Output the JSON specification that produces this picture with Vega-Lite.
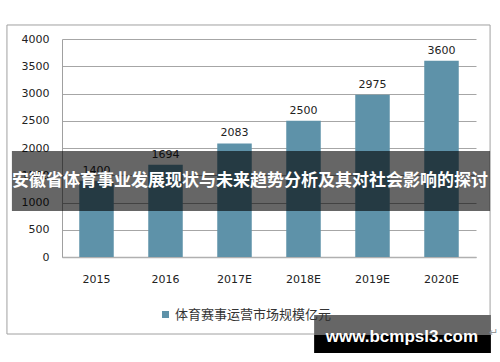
{
  "$schema": "https://vega.github.io/schema/vega-lite/v6.json",
  "width": 414,
  "height": 218,
  "autosize": "none",
  "padding": {"left": 62, "top": 39, "right": 24, "bottom": 105},
  "background": "#ffffff",
  "config": {
    "view": {"stroke": null},
    "font": "DejaVu Sans"
  },
  "resolve": {"scale": {"x": "independent"}, "axis": {"x": "independent"}},
  "encoding": {
    "y": {
      "field": "value", "type": "quantitative",
      "scale": {"domain": [0, 4000], "nice": false},
      "axis": {
        "title": null, "values": [0, 500, 1000, 1500, 2000, 2500, 3000, 3500, 4000],
        "format": "d", "ticks": false, "tickSize": 0, "labelPadding": 13, "labelFontSize": 11,
        "labelColor": "#222222", "labelFont": "DejaVu Sans", "labelOverlap": false,
        "domain": true, "domainColor": "#a0a0a0",
        "grid": true, "gridColor": "#a6a6a6", "gridWidth": 1
      }
    }
  },
  "layer": [
    {
      "data": {"values": [
        {"year": "2015", "value": 1400, "series": "体育赛事运营市场规模亿元"},
        {"year": "2016", "value": 1694, "series": "体育赛事运营市场规模亿元"},
        {"year": "2017E", "value": 2083, "series": "体育赛事运营市场规模亿元"},
        {"year": "2018E", "value": 2500, "series": "体育赛事运营市场规模亿元"},
        {"year": "2019E", "value": 2975, "series": "体育赛事运营市场规模亿元"},
        {"year": "2020E", "value": 3600, "series": "体育赛事运营市场规模亿元"}
      ]},
      "layer": [
        {
          "mark": {"type": "bar"},
          "encoding": {
            "x": {
              "field": "year", "type": "nominal", "sort": null,
              "scale": {"paddingInner": 0.5, "paddingOuter": 0.25},
              "axis": {
                "title": null, "labelAngle": 0, "ticks": false, "tickSize": 0,
                "labelPadding": 16, "labelFontSize": 11, "labelColor": "#222222",
                "labelFont": "DejaVu Sans",
                "domainColor": "#b0b0b0", "domainWidth": 1.5, "grid": false
              }
            },
            "color": {
              "field": "series", "type": "nominal",
              "scale": {"range": ["#5e92a9"]},
              "legend": {
                "title": null, "orient": "none", "legendX": 97, "legendY": 269,
                "symbolType": "square", "symbolSize": 49, "labelFontSize": 13,
                "labelFont": "Noto Sans CJK SC", "labelColor": "#333333", "labelOffset": 3
              }
            }
          }
        },
        {
          "mark": {"type": "text", "baseline": "bottom", "dy": -5, "fontSize": 11, "color": "#222222", "font": "DejaVu Sans"},
          "encoding": {
            "x": {"field": "year", "type": "nominal", "sort": null},
            "text": {"field": "value", "type": "quantitative", "format": "d"}
          }
        }
      ]
    },
    {
      "data": {"values": [{"x": -0.133, "x2": 1.034, "value": 4257, "value2": -1413}]},
      "mark": {"type": "rect", "fill": null, "stroke": "#a0a0a0", "strokeWidth": 1, "clip": false},
      "encoding": {
        "x": {"field": "x", "type": "quantitative", "scale": {"domain": [0, 1], "nice": false, "zero": false}, "axis": null},
        "x2": {"field": "x2"},
        "y2": {"field": "value2"}
      }
    },
    {
      "data": {"values": [{"x": -0.121, "x2": 1.034, "value": 1945, "value2": 844}]},
      "mark": {"type": "rect", "fill": "#000000", "fillOpacity": 0.6, "clip": false},
      "encoding": {
        "x": {"field": "x", "type": "quantitative", "scale": {"domain": [0, 1], "nice": false, "zero": false}, "axis": null},
        "x2": {"field": "x2"},
        "y2": {"field": "value2"}
      }
    },
    {
      "data": {"values": [{"x": 0.454, "value": 1394, "label": "安徽省体育事业发展现状与未来趋势分析及其对社会影响的探讨"}]},
      "mark": {"type": "text", "color": "#ffffff", "fontSize": 17, "fontWeight": "bold", "font": "Noto Sans CJK SC", "align": "center", "baseline": "middle", "clip": false},
      "encoding": {
        "x": {"field": "x", "type": "quantitative", "scale": {"domain": [0, 1], "nice": false, "zero": false}, "axis": null},
        "text": {"field": "label"}
      }
    },
    {
      "data": {"values": [{"x": 0.609, "x2": 1.036, "value": -1064, "value2": -1431}]},
      "mark": {"type": "rect", "fill": "#666666", "clip": false},
      "encoding": {
        "x": {"field": "x", "type": "quantitative", "scale": {"domain": [0, 1], "nice": false, "zero": false}, "axis": null},
        "x2": {"field": "x2"},
        "y2": {"field": "value2"}
      }
    },
    {
      "data": {"values": [{"x": 0.609, "x2": 1.036, "value": -1431, "value2": -1761}]},
      "mark": {"type": "rect", "fill": "#000000", "clip": false},
      "encoding": {
        "x": {"field": "x", "type": "quantitative", "scale": {"domain": [0, 1], "nice": false, "zero": false}, "axis": null},
        "x2": {"field": "x2"},
        "y2": {"field": "value2"}
      }
    },
    {
      "data": {"values": [{"x": 0.821, "value": -1468, "label": "www.bcmpsl3.com"}]},
      "mark": {"type": "text", "color": "#ffffff", "fontSize": 17, "fontWeight": "bold", "font": "Liberation Sans", "align": "center", "baseline": "middle", "clip": false},
      "encoding": {
        "x": {"field": "x", "type": "quantitative", "scale": {"domain": [0, 1], "nice": false, "zero": false}, "axis": null},
        "text": {"field": "label"}
      }
    },
    {
      "data": {"values": [{"x": 1.043, "value": -1394, "label": "↵"}]},
      "mark": {"type": "text", "color": "#999999", "fontSize": 11, "font": "DejaVu Sans", "align": "center", "baseline": "middle", "clip": false},
      "encoding": {
        "x": {"field": "x", "type": "quantitative", "scale": {"domain": [0, 1], "nice": false, "zero": false}, "axis": null},
        "text": {"field": "label"}
      }
    }
  ]
}
